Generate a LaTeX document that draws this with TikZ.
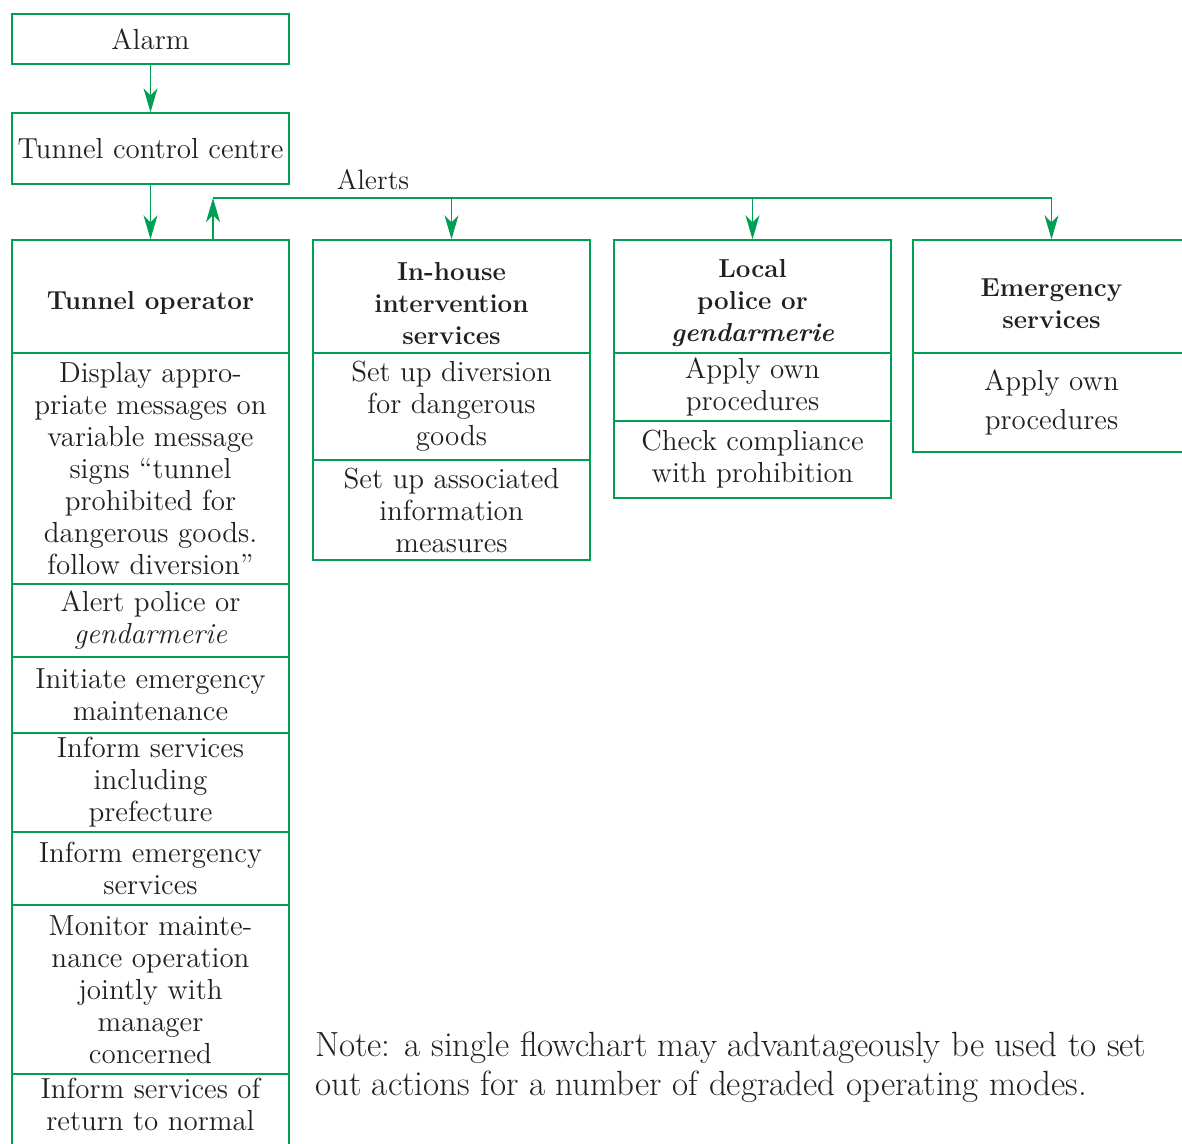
\documentclass[tikz,border=0pt]{standalone}
\usepackage{fontspec}
\usetikzlibrary{arrows.meta}
\definecolor{flowgreen}{RGB}{0,160,84}
\definecolor{ink}{RGB}{35,31,32}
\newcommand{\headgap}{\rule{0pt}{16pt}}
\tikzset{
  cell/.style={draw=flowgreen, line width=0.7pt, minimum width=138.5pt, inner ysep=1pt, inner xsep=0pt,
    align=center, text=ink, font=\fontsize{14.5}{16}\selectfont},
  head/.style={cell, font=\fontsize{13}{16}\selectfont\bfseries},
  link/.style={draw=flowgreen, line width=0.7pt, -{Stealth[length=12pt,width=7pt,inset=3.5pt]}},
}
\begin{document}
\begin{tikzpicture}[x=0.5pt, y=-0.5pt]
  \clip (0,0) rectangle (1182,1144);
  % alarm chain
  \node [cell, minimum height=25pt] (alarm) at (150.5,39) {Alarm};
  \node [cell, minimum height=35.5pt] (tcc) at (150.5,148.5) {Tunnel control centre};
  % tunnel operator
  \node [head, minimum height=56.5pt] (op) at (150.5,296.5) {\headgap Tunnel operator};
  \node [cell, minimum height=115.5pt] (op1) at (150.5,468.5) {Display appro-\\priate messages on\\variable message\\signs “tunnel\\prohibited for\\dangerous goods.\\follow diversion”};
  \node [cell, minimum height=36.5pt] (op2) at (150.5,620.5) {Alert police or\\\textit{gendarmerie}};
  \node [cell, minimum height=38pt] (op3) at (150.5,695) {Initiate emergency\\maintenance};
  \node [cell, minimum height=49.5pt] (op4) at (150.5,782.5) {Inform services\\including\\prefecture};
  \node [cell, minimum height=36.5pt] (op5) at (150.5,868.5) {Inform emergency\\services};
  \node [cell, minimum height=84.5pt] (op6) at (150.5,989.5) {Monitor mainte-\\nance operation\\jointly with\\manager\\concerned};
  \node [cell, minimum height=43pt, text depth=13pt] (op7) at (150.5,1117) {Inform services of\\return to normal};
  % in-house services
  \node [head, minimum height=56.5pt] (house) at (451.5,296.5) {\headgap In-house\\intervention\\services};
  \node [cell, minimum height=53.5pt] (house1) at (451.5,406.5) {Set up diversion\\for dangerous\\goods};
  \node [cell, minimum height=50pt] (house2) at (451.5,510) {Set up associated\\information\\measures};
  % police
  \node [head, minimum height=56.5pt] (police) at (752.5,296.5) {\headgap Local\\police or\\\textit{gendarmerie}};
  \node [cell, minimum height=34pt] (police1) at (752.5,387) {Apply own\\procedures};
  \node [cell, minimum height=38.5pt] (police2) at (752.5,459.5) {Check compliance\\with prohibition};
  % emergency services
  \node [head, minimum height=56.5pt] (emerg) at (1051.5,296.5) {\headgap Emergency\\services};
  \node [cell, minimum height=49.5pt, font=\fontsize{14.5}{19.5}\selectfont] (emerg1) at (1051.5,402.5) {Apply own\\procedures};
  % connectors
  \draw [link] (alarm) -- (tcc);
  \draw [link] (tcc) -- (op);
  \coordinate (bus) at (213,198);
  \draw [link] (op.north -| bus) -- (bus);
  \draw [link] (bus) -| (emerg.north);
  \draw [link] (bus -| house.north) -- (house.north);
  \draw [link] (bus -| police.north) -- (police.north);
  \node [text=ink, font=\fontsize{14}{16}\selectfont] (alerts) at (373,180) {Alerts};
  % note
  \node [anchor=west, align=left, text=ink, font=\fontsize{17.5}{19.5}\selectfont] (note) at (308,1067.5) {Note: a single flowchart may advantageously be used to set\\out actions for a number of degraded operating modes.};
\end{tikzpicture}
\end{document}
